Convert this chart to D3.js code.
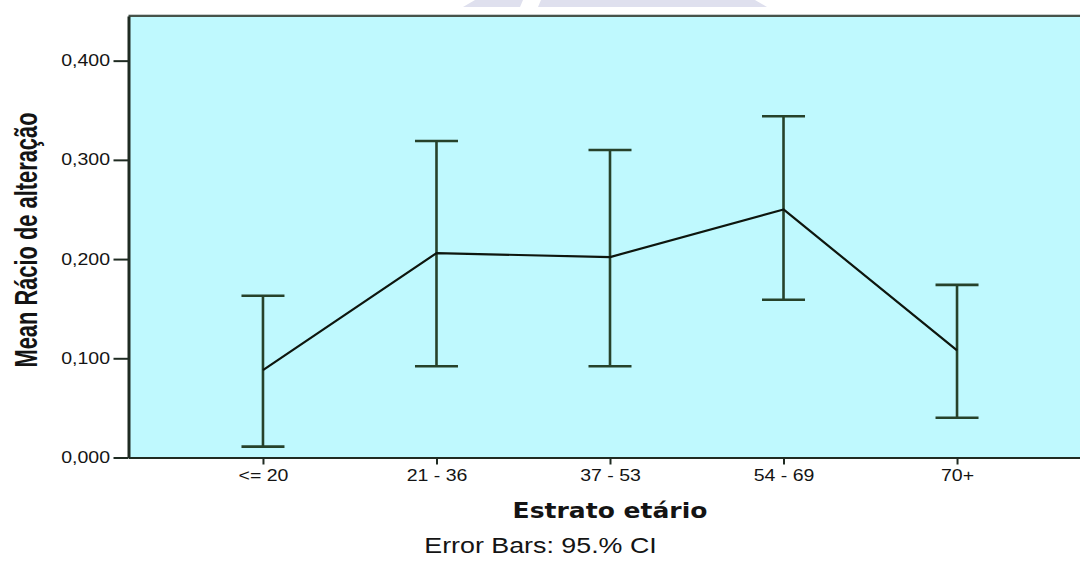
<!DOCTYPE html>
<html>
<head>
<meta charset="utf-8">
<script src="https://cdn.jsdelivr.net/npm/d3@7"></script>
<style>
  html, body { margin: 0; padding: 0; background: #ffffff; }
  svg { display: block; }
  text { fill: #141414; }
</style>
</head>
<body>
<script>
// Age strata and mean change ratio with 95% confidence intervals
const categories = ["<= 20", "21 - 36", "37 - 53", "54 - 69", "70+"];
const means      = [0.088, 0.206, 0.202, 0.250, 0.108];
const ciLower    = [0.011, 0.092, 0.092, 0.159, 0.040];
const ciUpper    = [0.163, 0.319, 0.310, 0.344, 0.174];
const yTicks     = [0, 0.1, 0.2, 0.3, 0.4];

const W = 1080, H = 564;
const plot = { left: 128.5, top: 16, right: 1091.5, bottom: 457.5 };
const SX = 1.22; // horizontal stretch applied to all lettering

const svg = d3.select("body").append("svg")
  .attr("width", W).attr("height", H);

// faint header ornament
const ornament = [
  [[475, 0], [523, 0], [520, 7], [463, 7]],
  [[541, 0], [755, 0], [767, 7], [538, 7]]
];
svg.append("g").selectAll("polygon").data(ornament).join("polygon")
  .attr("points", d => d.map(p => p.join(",")).join(" "))
  .attr("fill", "#dfe0ee");

const x = d3.scalePoint()
  .domain(categories)
  .range([plot.left, plot.right])
  .padding(0.775);

const y = d3.scaleLinear()
  .domain([0, 0.445])
  .range([plot.bottom, plot.top]);

// plot background and frame
svg.append("rect")
  .attr("x", plot.left).attr("y", plot.top)
  .attr("width", plot.right - plot.left)
  .attr("height", plot.bottom - plot.top)
  .attr("fill", "#bff9fe");

svg.append("line")
  .attr("x1", plot.left).attr("x2", W)
  .attr("y1", plot.top - 1.5).attr("y2", plot.top - 1.5)
  .attr("stroke", "#c8cccb").attr("stroke-width", 1);
svg.append("line")
  .attr("x1", plot.left).attr("x2", W)
  .attr("y1", plot.top).attr("y2", plot.top)
  .attr("stroke", "#46534a").attr("stroke-width", 2);

const commaFmt = d3.formatLocale({ decimal: ",", thousands: ".", grouping: [3], currency: ["", ""] }).format(".3f");

// y axis
const gy = svg.append("g")
  .attr("transform", `translate(${plot.left},0)`)
  .call(d3.axisLeft(y).tickValues(yTicks).tickFormat(commaFmt).tickSize(15).tickSizeOuter(0));
gy.select(".domain").attr("stroke", "#1f2b22").attr("stroke-width", 3);
gy.selectAll(".tick line").attr("stroke", "#1f2b22").attr("stroke-width", 2);
gy.selectAll(".tick text")
  .attr("x", -18.5 / SX)
  .attr("transform", `scale(${SX},1)`)
  .style("font-family", "'Liberation Sans', Arial, sans-serif")
  .style("font-size", "16px")
  .attr("fill", "#141414");

// x axis
const gx = svg.append("g")
  .attr("transform", `translate(0,${plot.bottom})`)
  .call(d3.axisBottom(x).tickSize(7).tickPadding(5).tickSizeOuter(0));
gx.select(".domain").attr("stroke", "#1f2b22").attr("stroke-width", 2.2);
gx.selectAll(".tick line").attr("stroke", "#1f2b22").attr("stroke-width", 2);
gx.selectAll(".tick text")
  .attr("transform", `scale(${SX},1)`)
  .style("font-family", "'Liberation Sans', Arial, sans-serif")
  .style("font-size", "16px")
  .attr("fill", "#141414");

// error bars
const cap = 21.5;
const bars = svg.append("g")
  .attr("stroke", "#26422a")
  .attr("stroke-width", 2.6)
  .attr("fill", "none");
categories.forEach((c, i) => {
  const cx = x(c);
  bars.append("line")
    .attr("x1", cx).attr("x2", cx)
    .attr("y1", y(ciLower[i])).attr("y2", y(ciUpper[i]));
  bars.append("line")
    .attr("x1", cx - cap).attr("x2", cx + cap)
    .attr("y1", y(ciUpper[i])).attr("y2", y(ciUpper[i]));
  bars.append("line")
    .attr("x1", cx - cap).attr("x2", cx + cap)
    .attr("y1", y(ciLower[i])).attr("y2", y(ciLower[i]));
});

// mean line
const line = d3.line()
  .x((d, i) => x(categories[i]))
  .y(d => y(d));
svg.append("path")
  .datum(means)
  .attr("d", line)
  .attr("fill", "none")
  .attr("stroke", "#0e160e")
  .attr("stroke-width", 2.2)
  .attr("stroke-linejoin", "round");

// axis titles
svg.append("text")
  .attr("transform", `translate(${(plot.left + plot.right) / 2},518) scale(${SX},1)`)
  .attr("text-anchor", "middle")
  .style("font-family", "'DejaVu Sans', Verdana, sans-serif")
  .style("font-weight", "bold")
  .style("font-size", "20.5px")
  .text("Estrato etário");

svg.append("text")
  .attr("transform", `translate(36.5,240) rotate(-90) scale(1,1.32)`)
  .attr("text-anchor", "middle")
  .attr("textLength", 255)
  .attr("lengthAdjust", "spacingAndGlyphs")
  .style("font-family", "'Liberation Sans', Arial, sans-serif")
  .style("font-weight", "bold")
  .style("font-size", "24px")
  .text("Mean Rácio de alteração");

svg.append("text")
  .attr("transform", `translate(540.5,553) scale(${SX},1)`)
  .attr("text-anchor", "middle")
  .style("font-family", "'Liberation Sans', Arial, sans-serif")
  .style("font-size", "22px")
  .text("Error Bars: 95.% CI");
</script>
</body>
</html>
